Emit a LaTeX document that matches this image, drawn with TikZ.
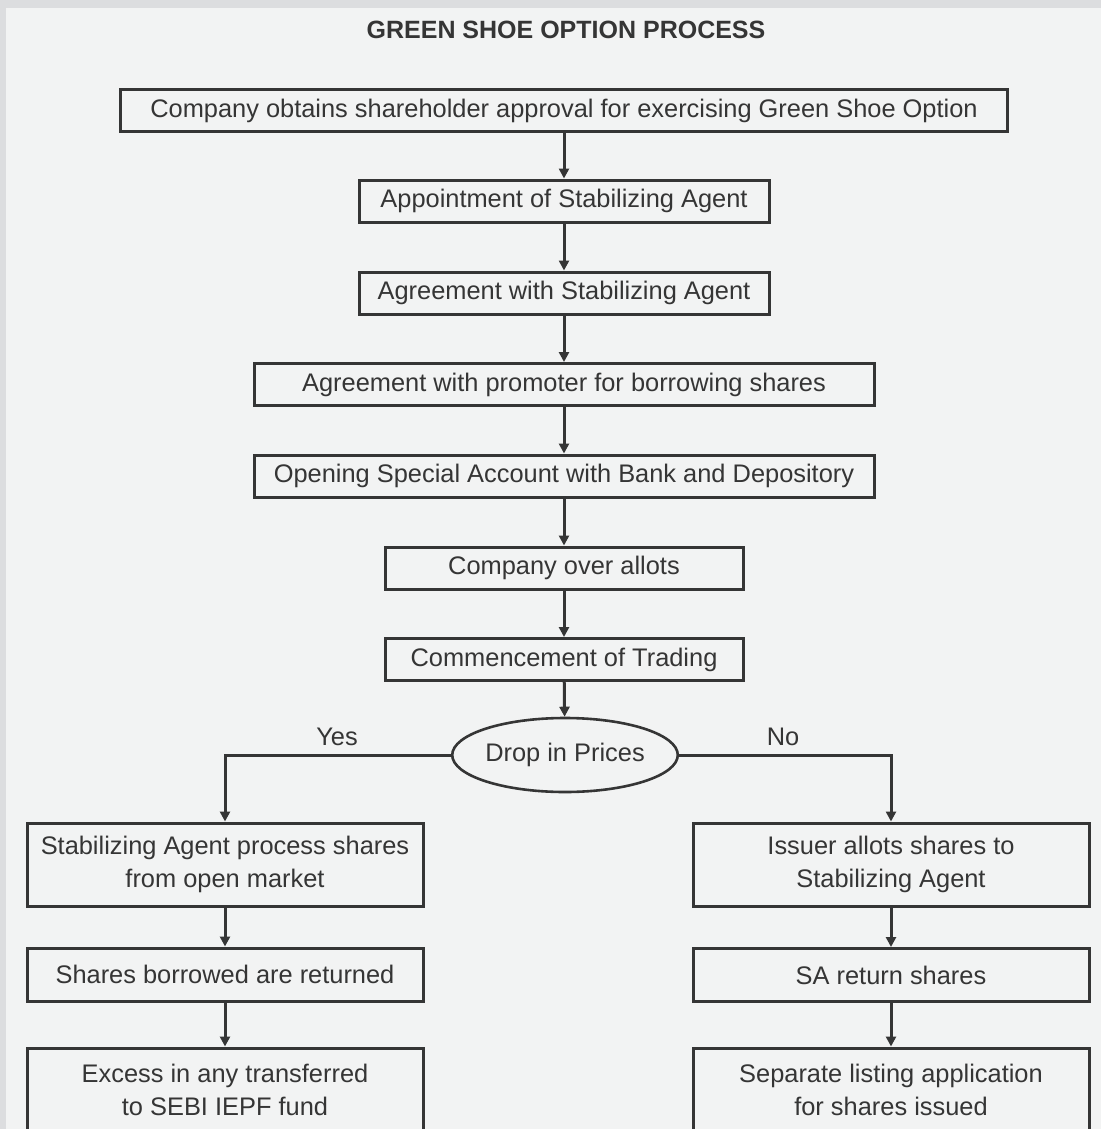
\documentclass[tikz,border=0pt]{standalone}
\usepackage{fontspec}
\setmainfont{Liberation Sans}
\usetikzlibrary{arrows.meta,shapes.geometric}
\definecolor{ink}{HTML}{353535}
\definecolor{panel}{HTML}{F2F3F3}
\definecolor{frame}{HTML}{DCDDDF}
\tikzset{
  box/.style      = {draw=ink, line width=3pt, fill=panel, text=ink, inner sep=0pt,
                     minimum height=42, font=\fontsize{25.4}{33}\selectfont},
  tallbox/.style  = {box, minimum width=396, minimum height=83, align=center},
  decision/.style = {ellipse, draw=ink, line width=2.6pt, fill=panel, text=ink, inner sep=0pt,
                     minimum width=220, minimum height=74, font=\fontsize{25.4}{32}\selectfont},
  flow/.style     = {draw=ink, line width=3pt, -{Triangle[length=10pt,width=10pt]}},
  lbl/.style      = {text=ink, inner sep=0pt, font=\fontsize{25.4}{32}\selectfont},
}

\begin{document}
\begin{tikzpicture}[x=1pt,y=-1pt]
  \fill[frame] (0,0) rectangle (1101,1129);
  \fill[panel] (6,8) rectangle (1101,1129);
  \clip (0,0) rectangle (1101,1129);
  \node[lbl, font=\bfseries\fontsize{25}{30}\selectfont] (title) at (566,30) {GREEN SHOE OPTION PROCESS};
  % main column
  \node[box, minimum width=887] (approve) at (564,110.5) {Company obtains shareholder approval for exercising Green Shoe Option};
  \node[box, minimum width=410] (appoint) at (564,201)   {Appointment of Stabilizing Agent};
  \node[box, minimum width=410] (agree)   at (564,293)   {Agreement with Stabilizing Agent};
  \node[box, minimum width=620] (borrow)  at (564,384.5) {Agreement with promoter for borrowing shares};
  \node[box, minimum width=620] (account) at (564,476)   {Opening Special Account with Bank and Depository};
  \node[box, minimum width=358] (allot)   at (564,568)   {Company over allots};
  \node[box, minimum width=358] (trade)   at (564,659.5) {Commencement of Trading};
  \node[decision] (drop) at (565,755) {Drop in Prices};
  \foreach \a/\b in {approve/appoint, appoint/agree, agree/borrow, borrow/account,
                     account/allot, allot/trade, trade/drop}
    \draw[flow] (\a) -- (\b);
  % yes branch
  \node[tallbox] (lbuy)    at (225,864.5)  {Stabilizing Agent process shares\\from open market};
  \node[box, minimum width=396, minimum height=53] (lreturn) at (225,974.5) {Shares borrowed are returned};
  \node[tallbox] (lexcess) at (225,1089.5) {Excess in any transferred\\to SEBI IEPF fund};
  % no branch
  \node[tallbox] (rissue)  at (891,864.5)  {Issuer allots shares to\\Stabilizing Agent};
  \node[box, minimum width=396, minimum height=53] (rreturn) at (891,975) {SA return shares};
  \node[tallbox] (rlist)   at (891,1089.5) {Separate listing application\\for shares issued};
  \draw[flow] (drop.west) -| (lbuy.north);
  \draw[flow] (drop.east) -| (rissue.north);
  \node[lbl] (yes) at (337,737) {Yes};
  \node[lbl] (no)  at (783,737) {No};
  \foreach \a/\b in {lbuy/lreturn, lreturn/lexcess, rissue/rreturn, rreturn/rlist}
    \draw[flow] (\a) -- (\b);
\end{tikzpicture}
\end{document}
